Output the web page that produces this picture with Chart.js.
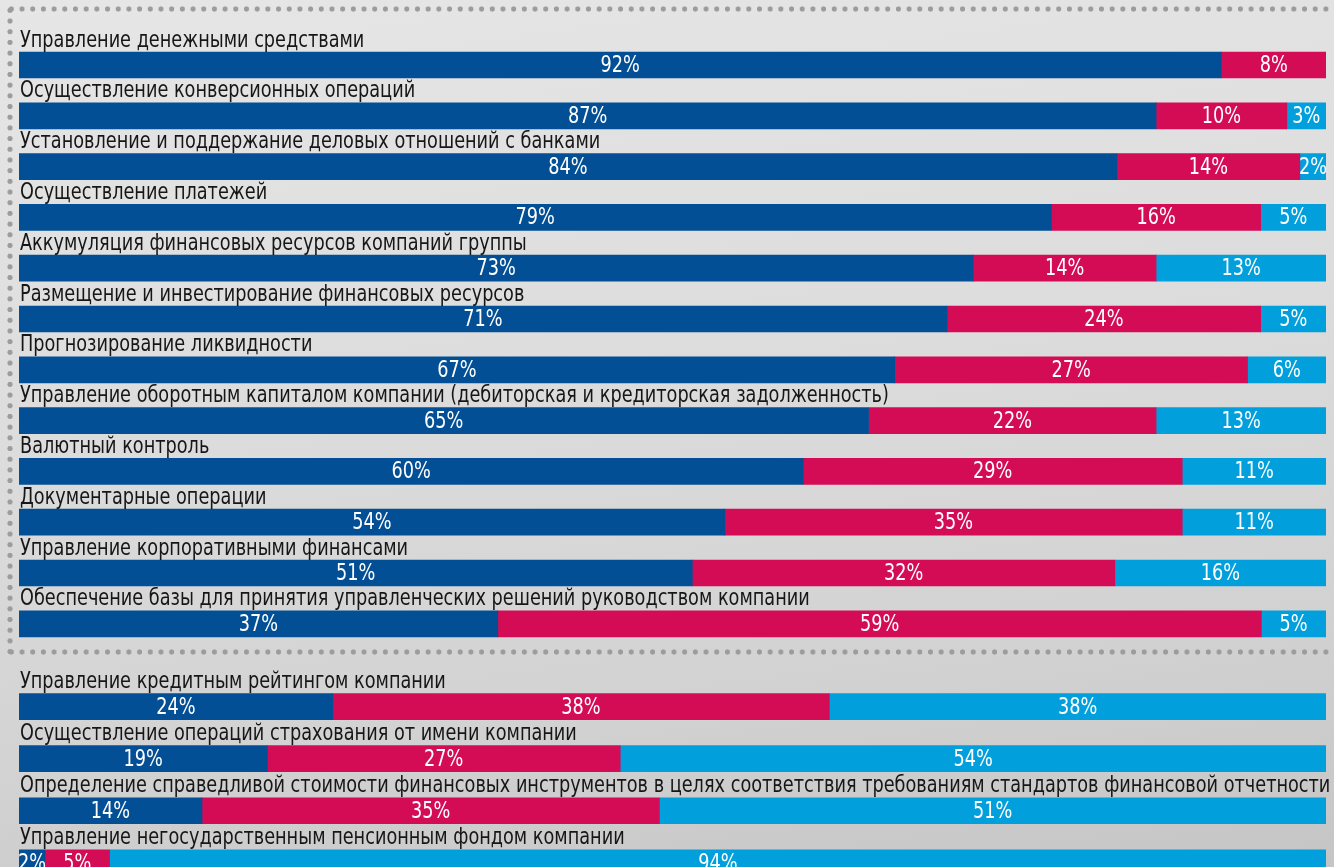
<!DOCTYPE html>
<html>
<head>
<meta charset="utf-8">
<script src="https://cdn.jsdelivr.net/npm/chart.js@4"></script>
<style>
  html, body { margin: 0; padding: 0; width: 1334px; height: 867px; overflow: hidden; }
  body { background: linear-gradient(172deg, #e6e6e6 0%, #dcdcdc 45%, #d2d2d2 75%, #c5c5c5 100%); position: relative; }
  .dots-h { position: absolute; height: 8px; background-image: radial-gradient(circle, #9c9c9c 2.3px, transparent 2.9px); background-size: 10.7px 8px; }
  .dots-v { position: absolute; width: 8px; background-image: radial-gradient(circle, #9c9c9c 2.3px, transparent 2.9px); background-size: 8px 10.7px; }
  #top { position: absolute; left: 0; top: 0; width: 1334px; height: 652px; }
  #bottom { position: absolute; left: 0; top: 652px; width: 1334px; height: 240px; }
</style>
</head>
<body>
<div class="dots-h" style="left:6px; top:5px; width:1328px;"></div>
<div class="dots-v" style="left:6px; top:5px; height:651px;"></div>
<div class="dots-h" style="left:6px; top:648px; width:1328px;"></div>
<div id="top"><canvas id="chartTop"></canvas></div>
<div id="bottom"><canvas id="chartBottom"></canvas></div>
<script>
var categories = [
  'Управление денежными средствами',
  'Осуществление конверсионных операций',
  'Установление и поддержание деловых отношений с банками',
  'Осуществление платежей',
  'Аккумуляция финансовых ресурсов компаний группы',
  'Размещение и инвестирование финансовых ресурсов',
  'Прогнозирование ликвидности',
  'Управление оборотным капиталом компании (дебиторская и кредиторская задолженность)',
  'Валютный контроль',
  'Документарные операции',
  'Управление корпоративными финансами',
  'Обеспечение базы для принятия управленческих решений руководством компании',
  'Управление кредитным рейтингом компании',
  'Осуществление операций страхования от имени компании',
  'Определение справедливой стоимости финансовых инструментов в целях соответствия требованиям стандартов финансовой отчетности',
  'Управление негосударственным пенсионным фондом компании'
];
var seriesDark = [92, 87, 84, 79, 73, 71, 67, 65, 60, 54, 51, 37, 24, 19, 14, 2];
var seriesRed  = [8, 10, 14, 16, 14, 24, 27, 22, 29, 35, 32, 59, 38, 27, 35, 5];
var seriesLight = [0, 3, 2, 5, 13, 5, 6, 13, 11, 11, 16, 5, 38, 54, 51, 94];
var colors = ['#034f95', '#d40c55', '#019fdc'];
var splitAt = 12;

var labelFont = '23px "DejaVu Sans Condensed", "DejaVu Sans", sans-serif';
var squeeze = 0.855; // the original uses a narrow face

function narrowText(ctx, text, x, y) {
  ctx.save();
  ctx.translate(x, y);
  ctx.scale(squeeze, 1);
  ctx.fillText(text, 0, 0);
  ctx.restore();
}

var rowText = {
  id: 'rowText',
  afterDatasetsDraw: function (chart) {
    var ctx = chart.ctx;
    ctx.save();
    ctx.font = labelFont;
    var meta0 = chart.getDatasetMeta(0);
    meta0.data.forEach(function (bar, i) {
      var top = bar.y - bar.height / 2;
      ctx.fillStyle = '#161616';
      ctx.textAlign = 'left';
      ctx.textBaseline = 'alphabetic';
      narrowText(ctx, chart.data.labels[i], 20, top - 5.5);
    });
    chart.data.datasets.forEach(function (ds, d) {
      chart.getDatasetMeta(d).data.forEach(function (bar, i) {
        var v = ds.raw[i];
        if (!v) return;
        ctx.fillStyle = '#ffffff';
        ctx.textAlign = 'center';
        ctx.textBaseline = 'middle';
        narrowText(ctx, v + '%', (bar.x + bar.base) / 2, bar.y + 1);
      });
    });
    ctx.restore();
  }
};

function makeChart(id, from, to, padTop, padBottom) {
  var labels = categories.slice(from, to);
  var raws = [seriesDark, seriesRed, seriesLight].map(function (s) { return s.slice(from, to); });
  var totals = labels.map(function (_, i) { return raws[0][i] + raws[1][i] + raws[2][i]; });
  var names = ['dark', 'red', 'light'];
  return new Chart(document.getElementById(id), {
    type: 'bar',
    data: {
      labels: labels,
      datasets: raws.map(function (r, d) {
        return {
          label: names[d],
          raw: r,
          data: r.map(function (v, i) { return v / totals[i] * 100; }),
          backgroundColor: colors[d],
          borderWidth: 0,
          barThickness: 26
        };
      })
    },
    options: {
      indexAxis: 'y',
      responsive: true,
      maintainAspectRatio: false,
      animation: false,
      layout: { padding: { left: 19, right: 8, top: padTop, bottom: padBottom } },
      scales: {
        x: { stacked: true, min: 0, max: 100, display: false },
        y: { stacked: true, display: false }
      },
      plugins: { legend: { display: false }, tooltip: { enabled: false } }
    },
    plugins: [rowText]
  });
}

makeChart('chartTop', 0, splitAt, 39.6, 2.8);
makeChart('chartBottom', splitAt, categories.length, 28.6, 3.2);
</script>
</body>
</html>
